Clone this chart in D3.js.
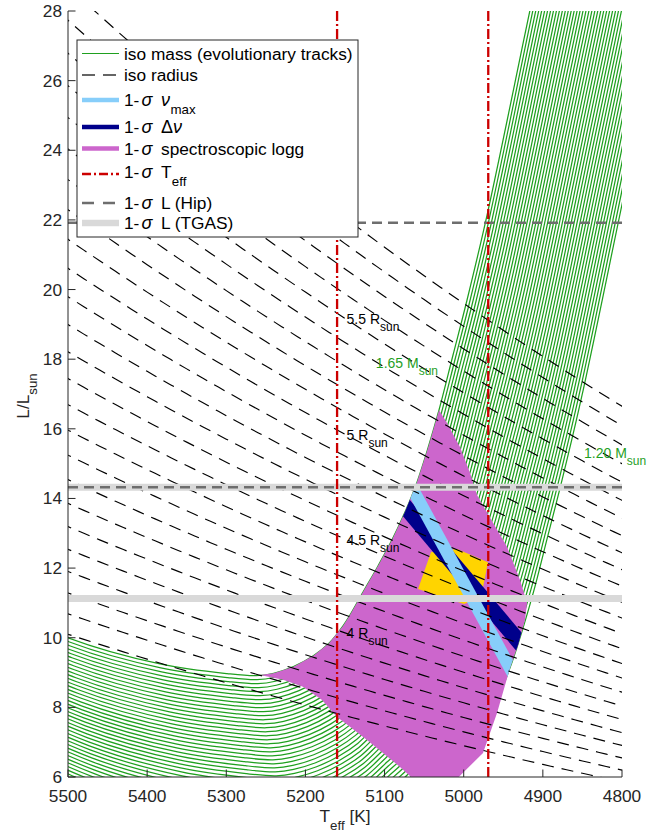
<!DOCTYPE html>
<html>
<head>
<meta charset="utf-8">
<script src="https://d3js.org/d3.v7.min.js"></script>
<style>
html,body{margin:0;padding:0;background:#fff;}
svg{display:block;}
text{font-family:"Liberation Sans",Arial,Helvetica,sans-serif;}
</style>
</head>
<body>
<svg id="chart" width="668" height="833"></svg>
<script>
// ---------------- data ----------------
const xTicks = [5500, 5400, 5300, 5200, 5100, 5000, 4900, 4800];
const yTicks = [6, 8, 10, 12, 14, 16, 18, 20, 22, 24, 26, 28];

// iso-radius lines (R in solar radii)
const isoRadii = [3.5, 3.6, 3.7, 3.8, 3.9, 4.0, 4.1, 4.2, 4.3, 4.4, 4.5, 4.6, 4.7, 4.8, 4.9,
                  5.0, 5.1, 5.2, 5.3, 5.4, 5.5, 5.6, 5.7, 5.8, 5.9];
const radiusLabels = [4, 4.5, 5, 5.5];
const TSUN = 5772;

// evolutionary tracks: masses and offsets of each track relative to the 1.65 Msun track
const trackMasses = [1.65, 1.64, 1.63, 1.62, 1.61, 1.60, 1.59, 1.58, 1.57, 1.56, 1.55, 1.54, 1.53, 1.52, 1.51,
                     1.50, 1.49, 1.48, 1.47, 1.46, 1.45, 1.44, 1.43, 1.42, 1.41, 1.40, 1.39, 1.38, 1.37, 1.36,
                     1.35, 1.34, 1.33, 1.32, 1.31, 1.30, 1.29, 1.28, 1.27, 1.26, 1.25, 1.24, 1.23, 1.22, 1.21, 1.20];
// Teff offset (K) on the subgiant part
const subgiantShiftT = [0, -1, -2, -3, -4, -5, -6, -7, -8, -9, -10, -11, -12, -13, -14, -15, -16, -17, -18, -19,
                        -20, -21, -22, -23, -24, -25, -26, -27, -28, -29, -30, -31, -32, -33, -34, -35, -36, -37,
                        -38, -39, -40, -41, -42, -43, -44, -45];
// Teff offset (K) on the red-giant part
const giantShiftT = [0, -2.67, -5.33, -8.00, -10.67, -13.33, -16.00, -18.67, -21.33, -24.00, -26.67, -29.33,
                     -32.00, -34.67, -37.33, -40.00, -42.67, -45.33, -48.00, -50.67, -53.33, -56.00, -58.67,
                     -61.33, -64.00, -66.67, -69.33, -72.00, -74.67, -77.33, -80.00, -82.67, -85.33, -88.00,
                     -90.67, -93.33, -96.00, -98.67, -101.33, -104.00, -106.67, -109.33, -112.00, -114.67,
                     -117.33, -120.00];
// luminosity offset (L/Lsun)
const trackShiftL = [0, -0.115, -0.23, -0.345, -0.46, -0.575, -0.69, -0.805, -0.92, -1.035, -1.15, -1.265,
                     -1.38, -1.495, -1.61, -1.725, -1.84, -1.955, -2.07, -2.185, -2.30, -2.415, -2.53, -2.645,
                     -2.76, -2.875, -2.99, -3.105, -3.22, -3.335, -3.45, -3.565, -3.68, -3.795, -3.91, -4.025,
                     -4.14, -4.255, -4.37, -4.485, -4.60, -4.715, -4.83, -4.945, -5.06, -5.175];
// the 1.65 Msun track (Teff, L) and how far along the subgiant -> giant transition each point is
const baseTrack = [[5720, 12.74], [5620, 11.29], [5500, 10.00], [5383.7, 9.25], [5299, 8.97], [5262.1, 8.91],
                   [5240.1, 8.98], [5215.1, 9.17], [5190.0, 9.48], [5170.2, 9.84], [5152.5, 10.34],
                   [5143.7, 10.65], [5127.2, 11.31], [5108.3, 12.06], [5090.6, 12.81], [5074.2, 13.61],
                   [5059.0, 14.47], [5045.1, 15.45], [5031.2, 16.54], [5013.5, 18.12], [4995.8, 19.70],
                   [4970.5, 22.14], [4916.2, 28.03], [4868.2, 33.20]];
const basePhase = [0, 0, 0, 0, 0, 0, 0.03, 0.1, 0.18, 0.27, 0.38, 0.48, 0.63, 0.78, 0.9, 1,
                   1, 1, 1, 1, 1, 1, 1, 1];

// 1-sigma spectroscopic logg region
const loggRegion = [[5031.2, 16.54], [5045.1, 15.45], [5059.0, 14.47], [5074.2, 13.61], [5090.6, 12.81],
                    [5108.3, 12.06], [5127.2, 11.31], [5143.7, 10.65], [5152.5, 10.34], [5170.2, 9.84],
                    [5190.0, 9.48], [5215.1, 9.17], [5240.1, 8.98], [5257.4, 8.93], [5228.3, 8.79],
                    [5203.1, 8.59], [5179.0, 8.21], [5160.1, 7.72], [5143.7, 7.44], [5122.2, 7.06],
                    [5102.0, 6.69], [5080.5, 6.29], [5064.1, 5.95], [5008.5, 5.95], [4975.6, 6.69],
                    [4957.9, 7.84], [4941.5, 9.13], [4931.4, 9.79], [4922.5, 10.51], [4920.0, 11.00],
                    [4928.9, 11.66], [4945.3, 12.61], [4963.0, 13.30], [4983.2, 14.10], [4992.0, 14.73],
                    [5004.7, 15.48], [5021.1, 16.17]];
// 1-sigma numax and delta-nu bands (shown inside the logg region)
const numaxBand = [[5115.2, 16.0], [4923.3, 8.0], [4905.3, 8.0], [5097.2, 16.0]];
const dnuBand = [[5132.7, 15.0], [4910.4, 9.0], [4884.4, 9.0], [5106.7, 15.0]];
// region where all constraints overlap
const overlapRegion = [[5057.7, 11.40], [5041.3, 12.46], [5008.5, 12.55], [4969.3, 12.17],
                       [4978.1, 11.17], [4999.6, 10.97]];

const teffBounds = [5160, 4969];
const lumHip = [14.32, 21.92];
const lumTgas = [11.13, 14.32];

const legendLabels = ['iso mass (evolutionary tracks)', 'iso radius', 'max', 'Δ', 'spectroscopic logg',
                      'eff', 'L (Hip)', 'L (TGAS)'];

// ---------------- drawing ----------------
const GREEN = '#1fa01f', PURPLE = '#cc66cc', LBLUE = '#87cefa', DBLUE = '#00008b',
      GOLD = '#ffd400', RED = '#cc0000', DGRAY = '#6e6e6e', LGRAY = '#d9d9d9', AXC = '#262626';
const X0 = 68, X1 = 622, Y0 = 11, Y1 = 777;
const x = d3.scaleLinear().domain([5500, 4800]).range([X0, X1]);
const y = d3.scaleLinear().domain([6, 28]).range([Y1, Y0]);

const svg = d3.select('#chart');
svg.append('rect').attr('width', 668).attr('height', 833).attr('fill', '#fff');
const defs = svg.append('defs');
defs.append('clipPath').attr('id', 'plotClip').append('rect')
  .attr('x', X0).attr('y', Y0).attr('width', X1 - X0).attr('height', Y1 - Y0);
const poly = d3.line().x(d => x(d[0])).y(d => y(d[1])).curve(d3.curveLinearClosed);
const path = d3.line().x(d => x(d[0])).y(d => y(d[1]));
const smooth = d3.line().x(d => x(d[0])).y(d => y(d[1])).curve(d3.curveCatmullRom.alpha(0.5));
defs.append('clipPath').attr('id', 'loggClip').append('path').attr('d', poly(loggRegion));

const plot = svg.append('g').attr('clip-path', 'url(#plotClip)');

// evolutionary tracks
const gT = plot.append('g');
trackMasses.forEach((m, i) => {
  const pts = baseTrack.map((p, j) => {
    const w = basePhase[j];
    return [p[0] + subgiantShiftT[i] * (1 - w) + giantShiftT[i] * w, p[1] + trackShiftL[i]];
  });
  gT.append('path').attr('d', smooth(pts)).attr('fill', 'none')
    .attr('stroke', GREEN).attr('stroke-width', 1.25);
});

// logg region
plot.append('path').attr('d', poly(loggRegion)).attr('fill', PURPLE);
const inner = plot.append('g').attr('clip-path', 'url(#loggClip)');
inner.append('path').attr('d', poly(overlapRegion)).attr('fill', GOLD);
inner.append('path').attr('d', poly(dnuBand)).attr('fill', DBLUE);
inner.append('path').attr('d', poly(numaxBand)).attr('fill', LBLUE);

// iso-radius lines
const teffSamples = d3.range(4790, 5511, 10);
const isoL = (R, T) => R * R * Math.pow(T / TSUN, 4);
isoRadii.forEach(R => {
  const pts = teffSamples.map(T => [T, isoL(R, T)]).reverse();
  plot.append('path').attr('d', path(pts)).attr('fill', 'none')
    .attr('stroke', '#000').attr('stroke-width', 1.15).attr('stroke-dasharray', '12,8');
});

// luminosity constraints
lumTgas.forEach(L => {
  plot.append('line').attr('x1', X0).attr('x2', X1).attr('y1', y(L)).attr('y2', y(L))
    .attr('stroke', LGRAY).attr('stroke-width', 7);
});
lumHip.forEach(L => {
  plot.append('line').attr('x1', X0).attr('x2', X1).attr('y1', y(L)).attr('y2', y(L))
    .attr('stroke', DGRAY).attr('stroke-width', 2.6).attr('stroke-dasharray', '10,6');
});
// Teff constraints
teffBounds.forEach(T => {
  plot.append('line').attr('x1', x(T)).attr('x2', x(T)).attr('y1', Y0).attr('y2', Y1)
    .attr('stroke', RED).attr('stroke-width', 2.3).attr('stroke-dasharray', '10,3,2,3');
});

// labels with subscripts
function subLabel(px, py, main, sub, size, subSize, dy, color) {
  const t = svg.append('text').attr('x', px).attr('y', py).attr('font-size', size)
    .attr('dominant-baseline', 'central').attr('fill', color);
  t.append('tspan').text(main);
  t.append('tspan').attr('font-size', subSize).attr('dy', dy).text(sub);
  return t;
}
const labelT = 5148;
radiusLabels.forEach(R => {
  subLabel(x(labelT), y(isoL(R, labelT)), R + ' R', 'sun', 14, 12, 8, '#000');
});
subLabel(x(5111), y(17.89), trackMasses[0].toFixed(2) + ' M', 'sun', 14, 12, 8, GREEN);
subLabel(x(4848), y(15.30), trackMasses[trackMasses.length - 1].toFixed(2) + ' M', 'sun', 14, 12, 8, GREEN);

// axes
const ax = svg.append('g');
ax.append('line').attr('x1', X0).attr('x2', X0).attr('y1', Y0).attr('y2', Y1).attr('stroke', AXC);
ax.append('line').attr('x1', X0).attr('x2', X1).attr('y1', Y1).attr('y2', Y1).attr('stroke', AXC);
yTicks.forEach(v => {
  ax.append('line').attr('x1', X0).attr('x2', X0 + 7.5).attr('y1', y(v)).attr('y2', y(v)).attr('stroke', AXC);
  ax.append('text').attr('x', X0 - 6).attr('y', y(v)).attr('text-anchor', 'end')
    .attr('dominant-baseline', 'central').attr('font-size', 17.3).attr('fill', AXC).text(v);
});
xTicks.forEach(v => {
  ax.append('line').attr('x1', x(v)).attr('x2', x(v)).attr('y1', Y1).attr('y2', Y1 - 7.5).attr('stroke', AXC);
  ax.append('text').attr('x', x(v)).attr('y', 802).attr('text-anchor', 'middle')
    .attr('font-size', 17.3).attr('fill', AXC).text(v);
});
const xl = ax.append('text').attr('x', (X0 + X1) / 2).attr('y', 822).attr('text-anchor', 'middle')
  .attr('font-size', 17.3).attr('fill', AXC);
xl.append('tspan').text('T');
xl.append('tspan').attr('font-size', 13.3).attr('dy', 8).text('eff');
xl.append('tspan').attr('dy', -8).text(' [K]');
const yl = ax.append('text').attr('transform', 'translate(29,396) rotate(-90)').attr('text-anchor', 'middle')
  .attr('font-size', 17.3).attr('fill', AXC);
yl.append('tspan').text('L/L');
yl.append('tspan').attr('font-size', 13.3).attr('dy', 8).text('sun');

// legend
const lg = svg.append('g');
lg.append('rect').attr('x', 77).attr('y', 40).attr('width', 281).attr('height', 197)
  .attr('fill', '#fff').attr('stroke', AXC).attr('stroke-width', 1);
const ly = [53.5, 75, 100, 127, 148.5, 174, 203, 223];
const lx0 = 82, lx1 = 119, tx = 124, sx = 141.5, mx = 161;
function sample(i, color, w, dash) {
  const l = lg.append('line').attr('x1', lx0).attr('x2', lx1).attr('y1', ly[i]).attr('y2', ly[i])
    .attr('stroke', color).attr('stroke-width', w);
  if (dash) l.attr('stroke-dasharray', dash);
}
sample(0, GREEN, 1.2);
sample(1, '#333', 1.4, '13,8');
sample(2, LBLUE, 4.5);
sample(3, DBLUE, 4.5);
sample(4, PURPLE, 4.5);
sample(5, RED, 2.6, '9,3,2,3');
sample(6, DGRAY, 2.6, '12,9');
sample(7, LGRAY, 6.5);
function ltext(px, py, s, opts = {}) {
  const t = lg.append('text').attr('x', px).attr('y', py).attr('font-size', opts.size || 17.3)
    .attr('dominant-baseline', 'central').attr('fill', '#000').text(s);
  if (opts.serif) t.attr('font-family', '"Liberation Serif","DejaVu Serif",serif');
  if (opts.italic) t.attr('font-style', 'italic');
  return t;
}
ltext(tx, ly[0], legendLabels[0]);
ltext(tx, ly[1], legendLabels[1]);
const textY = [null, null, 100, 127, 149, 172, 203, 223];
for (let i = 2; i < 8; i++) {
  ltext(tx, textY[i], '1-');
  ltext(sx, textY[i], 'σ', {serif: true, italic: true, size: 18});
}
ltext(mx, textY[2], 'ν', {serif: true, italic: true, size: 18});
ltext(170.5, textY[2] + 9, legendLabels[2], {size: 13.3});
ltext(mx, textY[3], legendLabels[3], {serif: true, size: 18});
ltext(mx + 12, textY[3], 'ν', {serif: true, italic: true, size: 18});
ltext(mx, textY[4], legendLabels[4]);
ltext(mx, textY[5], 'T');
ltext(mx + 10.8, textY[5] + 9.5, legendLabels[5], {size: 13.3});
ltext(mx, textY[6], legendLabels[6]);
ltext(mx, textY[7], legendLabels[7]);
</script>
</body>
</html>
